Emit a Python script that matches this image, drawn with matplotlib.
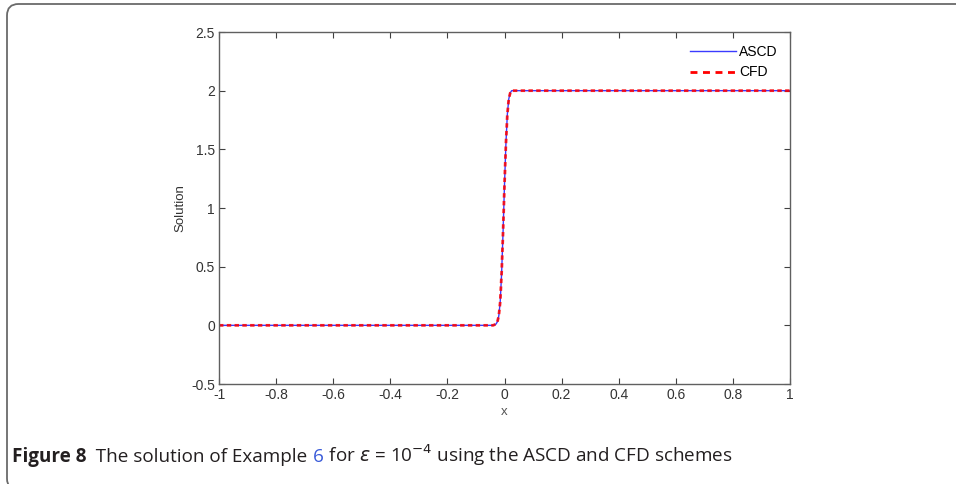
import matplotlib
matplotlib.use("Agg")
import matplotlib.pyplot as plt
from matplotlib.patches import FancyBboxPatch
from matplotlib.lines import Line2D

# data
x_ascd = [-1.0, -0.04, -0.03, -0.025, -0.02, -0.015, -0.01, -0.005, 0.0, 0.005, 0.01, 0.015, 0.02, 0.025, 0.03, 1.0]
y_ascd = [0.0, 0.0, 0.01, 0.03, 0.08, 0.2, 0.45, 0.8, 1.2, 1.55, 1.8, 1.93, 1.98, 2.0, 2.0, 2.0]
x_cfd = x_ascd
y_cfd = y_ascd
xticks = [-1, -0.8, -0.6, -0.4, -0.2, 0, 0.2, 0.4, 0.6, 0.8, 1]
xticklabels = ["-1", "-0.8", "-0.6", "-0.4", "-0.2", "0", "0.2", "0.4", "0.6", "0.8", "1"]
yticks = [-0.5, 0, 0.5, 1, 1.5, 2, 2.5]
yticklabels = ["-0.5", "0", "0.5", "1", "1.5", "2", "2.5"]

plt.rcParams["font.family"] = ["Liberation Sans", "DejaVu Sans"]
W, H = 956, 484
fig = plt.figure(figsize=(W / 100, H / 100), dpi=100)
fig.patch.set_facecolor("white")

# rounded frame (top and left visible)
frame = FancyBboxPatch((7 / W, 1 - 490 / H), (W + 30) / W, 486 / H,
                       boxstyle="round,pad=0,rounding_size=0.012",
                       transform=fig.transFigure, facecolor="none",
                       edgecolor="#6a6a6a", linewidth=1.3, mutation_aspect=W / H)
fig.add_artist(frame)

ax = fig.add_axes([219 / W, 1 - 384 / H, 571 / W, 352 / H])
ax.plot(x_ascd, y_ascd, color="#3b3bff", lw=1.0, label="ASCD")
ax.plot(x_cfd, y_cfd, color="#ff0000", lw=2.0, ls=(0, (1.6, 1.2)), alpha=0.85, label="CFD")
ax.set_xlim(-1, 1)
ax.set_ylim(-0.5, 2.5)
ax.set_xticks(xticks)
ax.set_xticklabels(xticklabels)
ax.set_yticks(yticks)
ax.set_yticklabels(yticklabels)
ax.tick_params(direction="in", top=True, right=True, labelsize=10, colors="#404040",
               length=4, width=0.8, labelcolor="#333333", pad=3)
for s in ax.spines.values():
    s.set_color("#606060")
    s.set_linewidth(1.0)
ax.set_xlabel("x", fontsize=9.5, color="#555555")
ax.set_ylabel("Solution", fontsize=9.5, color="#333333")
ax.yaxis.set_label_coords((186 - 219) / 571, 0.5)
ax.xaxis.set_label_coords(0.5, (384 - 406) / 352)
handles = [Line2D([], [], color="#3b3bff", lw=1.0),
           Line2D([], [], color="#ff0000", lw=2.0, ls=(0, (2.5, 2)))]
leg = ax.legend(handles, ["ASCD", "CFD"], loc="upper right", frameon=False, fontsize=10,
                handlelength=3.3, bbox_to_anchor=(1.0, 1.0),
                handletextpad=0.2, labelspacing=0.5)

# caption
fig.canvas.draw()
r = fig.canvas.get_renderer()
fam = ["Open Sans", "DejaVu Sans"]
parts = [("Figure 8", "bold", "#231f20"),
         ("  The solution of Example ", "normal", "#231f20"),
         ("6", "normal", "#3a5bd9"),
         (" for $\\varepsilon$ = 10$^{-4}$ using the ASCD and CFD schemes", "normal", "#231f20")]


def place(fs):
    xpos = 12
    ypix = 462
    arts = []
    for txt, wt, col in parts:
        t = fig.text(xpos / W, 1 - ypix / H, txt, fontsize=fs, fontweight=wt, color=col,
                     family=fam, va="baseline", ha="left")
        bb = t.get_window_extent(renderer=r)
        xpos += bb.width
        arts.append(t)
    return xpos, arts


end, arts = place(11.5)
fs = 11.5 * (735 - 12) / (end - 12)
for a in arts:
    a.remove()
place(fs)

fig.savefig("out.png", dpi=100)
